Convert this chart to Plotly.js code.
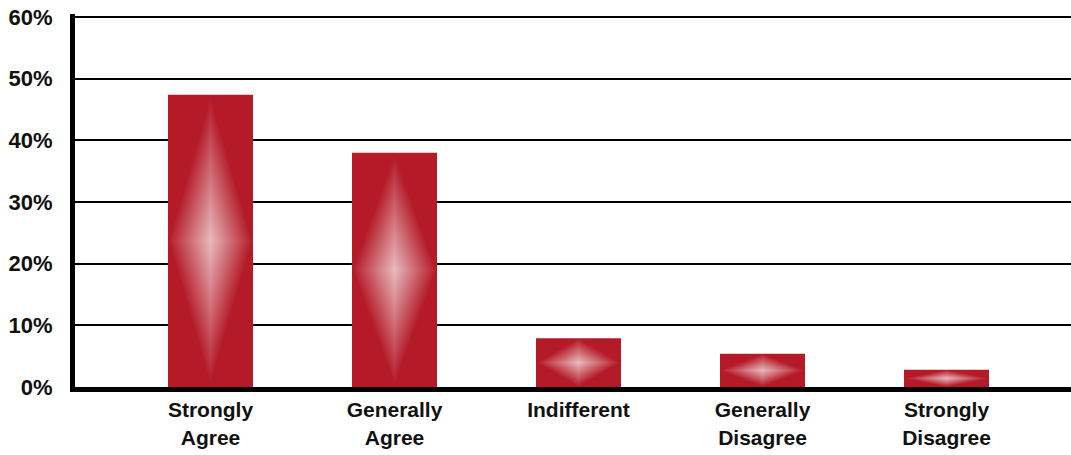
<!DOCTYPE html>
<html>
<head>
<meta charset="utf-8">
<script src="https://cdn.plot.ly/plotly-3.0.1.min.js"></script>
<style>
  html, body { margin: 0; padding: 0; background: #ffffff; }
  #chart { width: 1071px; height: 455px; }
</style>
</head>
<body>
<div id="chart"></div>
<script>
// Survey responses (share of respondents, %)
const categories = ["Strongly Agree", "Generally Agree", "Indifferent", "Generally Disagree", "Strongly Disagree"];
const shares = [47.4, 38.0, 7.9, 5.4, 2.8];
const yTicks = [0, 10, 20, 30, 40, 50, 60];

const BAR_COLOR = "#b41a28";
const BAR_WIDTH = 0.462;

// Diamond-shaped highlight used on every bar, built once on a canvas
function diamondGlow(size) {
  const c = document.createElement("canvas");
  c.width = size; c.height = size;
  const ctx = c.getContext("2d");
  const img = ctx.createImageData(size, size);
  const half = (size - 1) / 2;
  for (let j = 0; j < size; j++) {
    for (let i = 0; i < size; i++) {
      const u = Math.abs(i - half) / half;
      const v = Math.abs(j - half) / half;
      const t = Math.max(0, 1 - (u + v));
      const k = (j * size + i) * 4;
      img.data[k] = 255; img.data[k + 1] = 255; img.data[k + 2] = 255;
      img.data[k + 3] = Math.round(255 * 0.7 * t);
    }
  }
  ctx.putImageData(img, 0, 0);
  return c.toDataURL("image/png");
}
const glow = diamondGlow(256);

const xIdx = categories.map((_, i) => i);

const trace = {
  type: "bar",
  x: xIdx,
  y: shares,
  width: BAR_WIDTH,
  marker: { color: BAR_COLOR, line: { width: 0 } },
  hoverinfo: "skip"
};

const images = shares.map((v, i) => ({
  source: glow,
  xref: "x", yref: "y",
  x: i - BAR_WIDTH / 2, y: v,
  sizex: BAR_WIDTH, sizey: v,
  xanchor: "left", yanchor: "top",
  sizing: "stretch",
  layer: "above"
}));

const font = { family: "Liberation Sans, Arial, sans-serif", color: "#111111" };

const layout = {
  width: 1071, height: 455,
  margin: { l: 75, r: 0, t: 14, b: 68, pad: 0 },
  paper_bgcolor: "#ffffff",
  plot_bgcolor: "#ffffff",
  showlegend: false,
  images: images,
  xaxis: {
    range: [-0.7364, 4.6766],
    tickvals: xIdx,
    ticktext: categories.map(c => c.replace(" ", "<br>")),
    tickfont: Object.assign({ size: 21, weight: "bold" }, font),
    ticks: "",
    ticklabelstandoff: 0,
    showgrid: false,
    zeroline: false,
    showline: true,
    linecolor: "#000000",
    linewidth: 5,
    fixedrange: true
  },
  yaxis: {
    range: [0, 60.5],
    tickvals: yTicks,
    ticktext: yTicks.map(t => t + "%"),
    tickfont: Object.assign({ size: 22, weight: "bold" }, font),
    ticks: "",
    ticklabelstandoff: 13,
    showgrid: true,
    gridcolor: "#000000",
    gridwidth: 2,
    zeroline: false,
    showline: true,
    linecolor: "#000000",
    linewidth: 5,
    fixedrange: true
  }
};

Plotly.newPlot("chart", [trace], layout, { displayModeBar: false, staticPlot: true });
</script>
</body>
</html>
